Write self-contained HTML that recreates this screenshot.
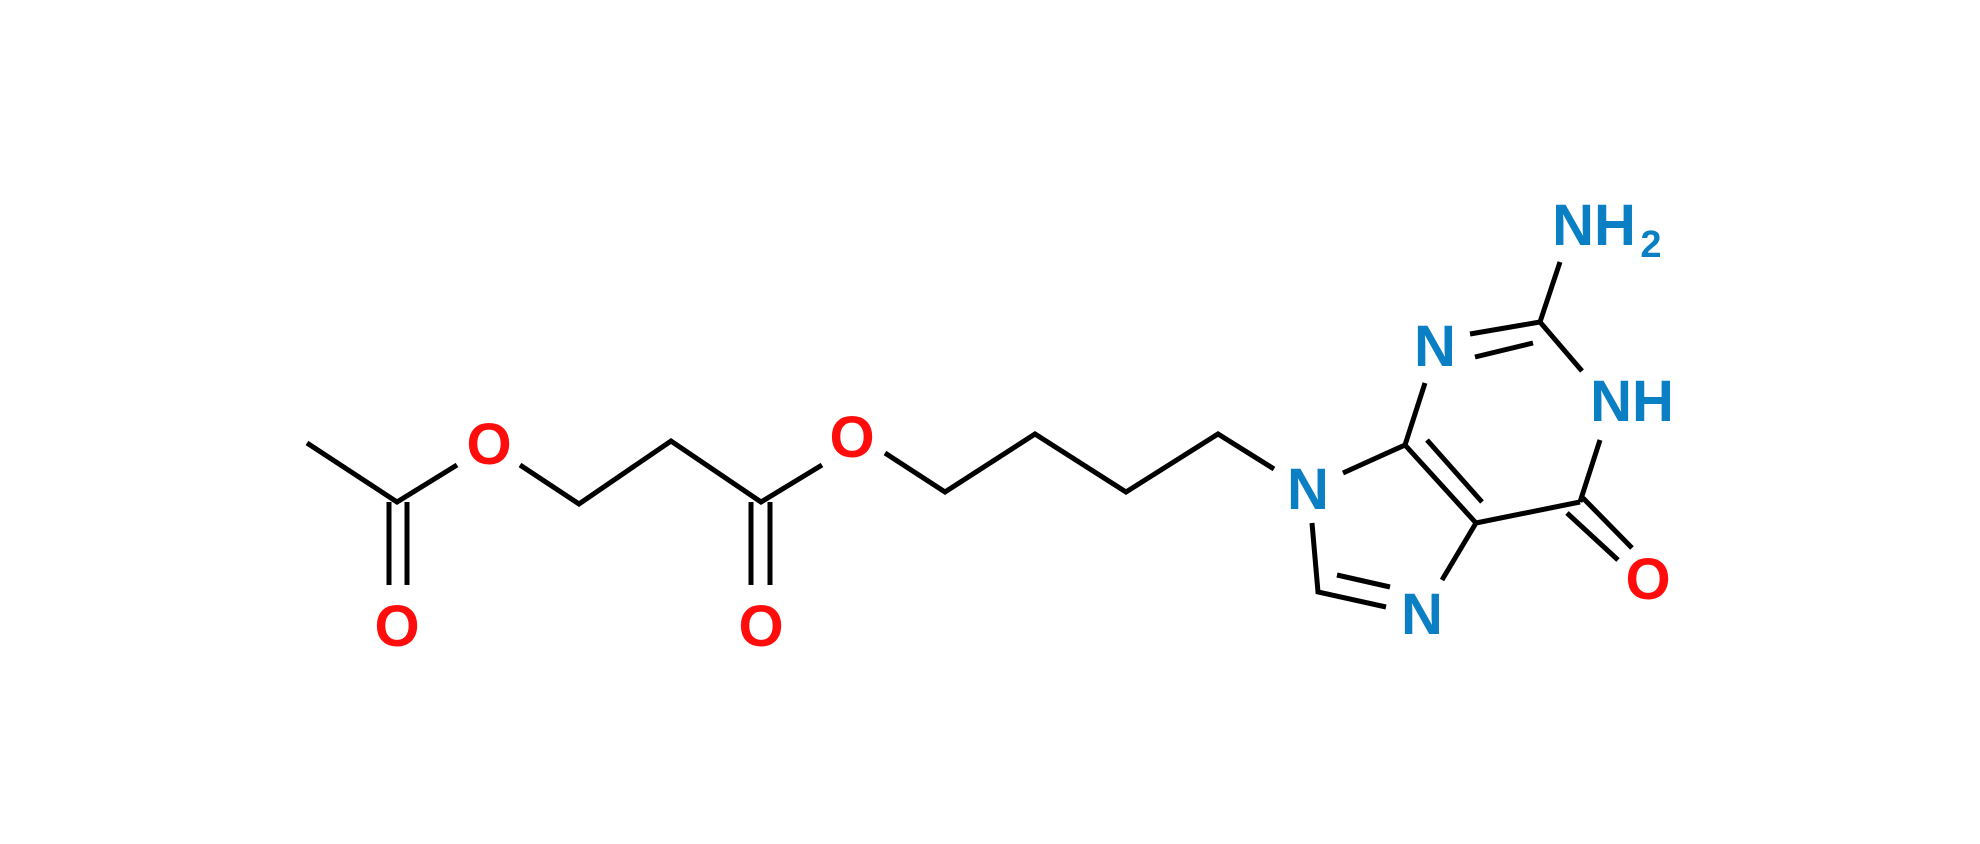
<!DOCTYPE html>
<html><head><style>html,body{margin:0;padding:0;background:#fff}svg{display:block}</style></head><body>
<svg width="1980" height="844" viewBox="0 0 1980 844" xmlns="http://www.w3.org/2000/svg">
<g stroke="#000" stroke-width="5" fill="none" stroke-linecap="butt" stroke-linejoin="miter">
<path d="M307,443L397,502L457,465M389,502V585M407,502V585M520,465L579,504L671,441L761,502L822,465M751,502V585M770,502V585M885,453L945,492L1035,434L1126,492L1218,434L1274,469"/>
<path d="M1343,473L1405,445L1425,383M1470,334L1540,322M1475,357L1533,343M1540,322L1560,262M1540,322L1582,371M1600,440L1580,502M1583,498L1632,548M1567,513L1618,560M1580,502L1476,523L1405,445M1427,440L1482,502M1476,523L1442,580M1386,607L1318,592L1312,523M1337,575L1390,587"/>
</g>
<g font-family="Liberation Sans, sans-serif" font-weight="bold" font-size="58" text-anchor="middle">
<g fill="#ff0d0d">
<text x="397" y="646">O</text>
<text x="489" y="464">O</text>
<text x="761" y="646">O</text>
<text x="852" y="457">O</text>
<text x="1648" y="599">O</text>
</g>
<g fill="#0a7fc4">
<text x="1308" y="509">N</text>
<text x="1435" y="366">N</text>
<text x="1422" y="634">N</text>
<text x="1632" y="421">NH</text>
<text x="1594" y="245">NH</text>
<text x="1651" y="257" font-size="38">2</text>
</g>
</g>
</svg>
</body></html>
